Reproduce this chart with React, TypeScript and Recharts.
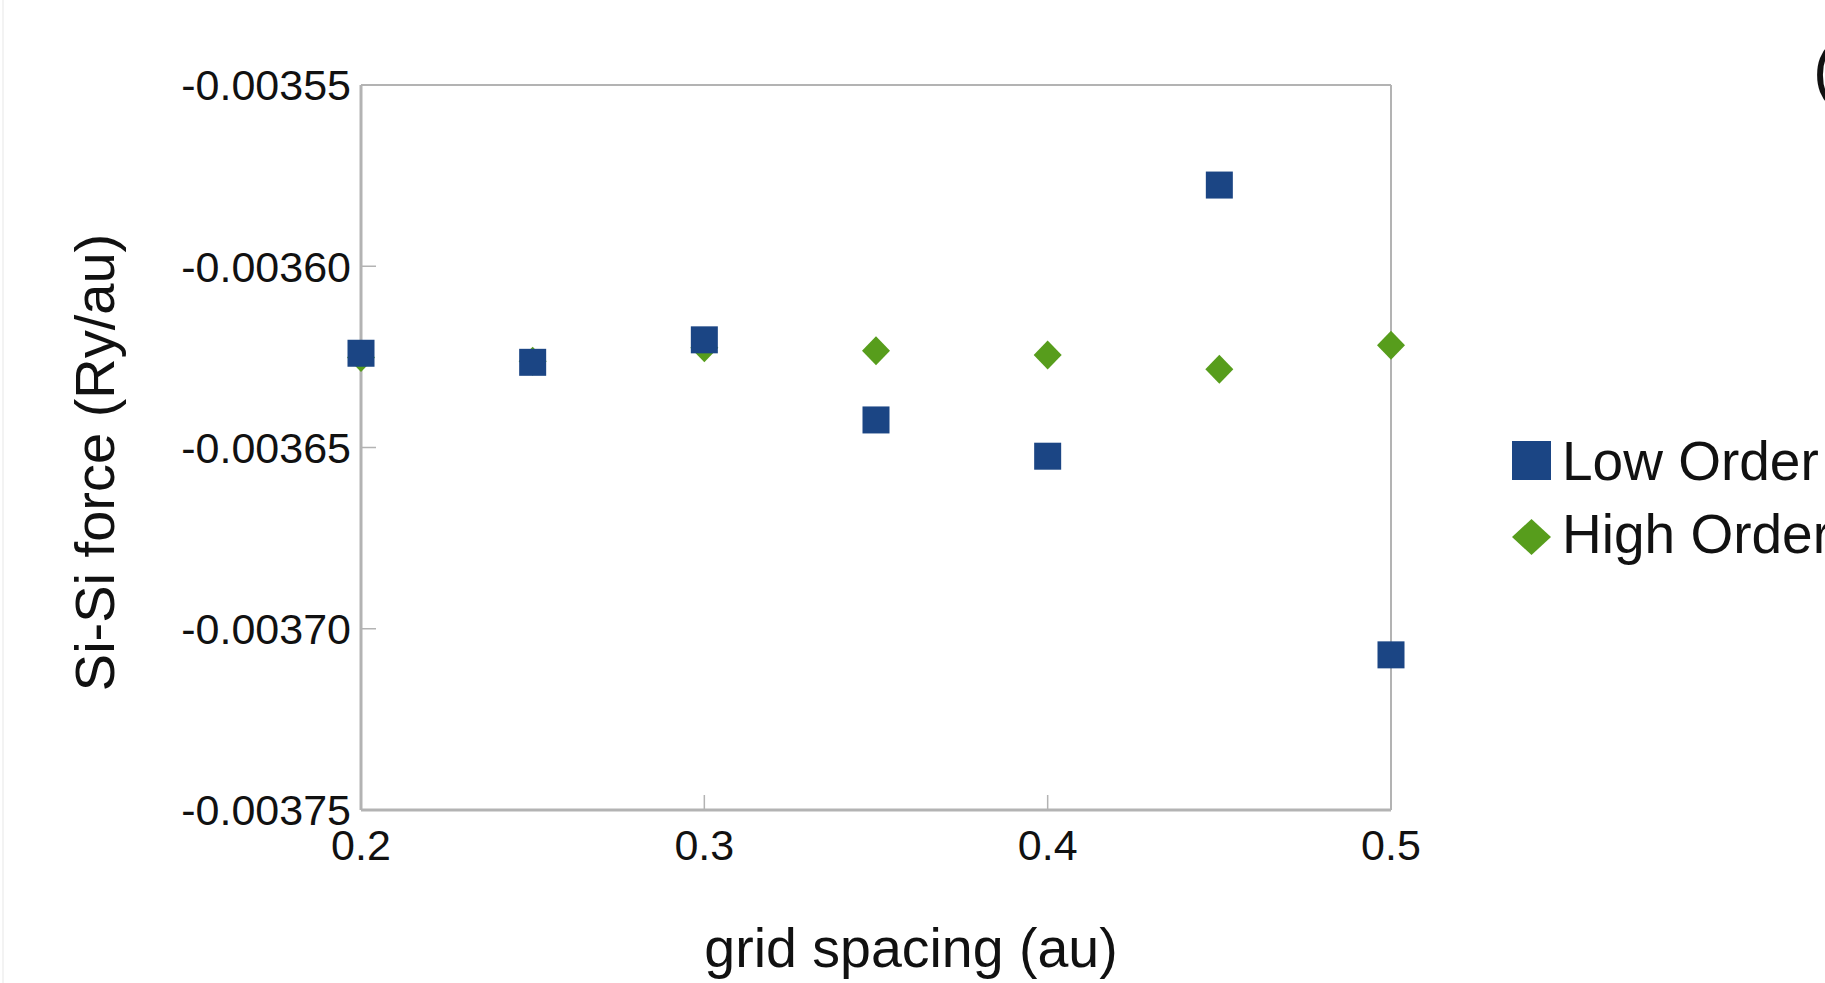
import React from 'react';
import { ScatterChart, Scatter, XAxis, YAxis, ReferenceLine, Legend, Label } from 'recharts';

const xValues = [0.2, 0.25, 0.3, 0.35, 0.4, 0.45, 0.5];
const lowOrder = [-0.003624, -0.0036265, -0.0036203, -0.0036424, -0.0036524, -0.0035776, -0.0037072];
const highOrder = [-0.0036252, -0.0036262, -0.0036225, -0.0036233, -0.0036245, -0.0036284, -0.0036218];
const xTicks = [0.2, 0.3, 0.4, 0.5];
const yTicks = [-0.00375, -0.0037, -0.00365, -0.0036, -0.00355];
const seriesNames = ['Low Order', 'High Order'];

const BLUE = '#1b4584';
const GREEN = '#579d1c';
const AXIS = '#b3b3b3';
const FONT = '"Liberation Sans", Arial, sans-serif';
const TEXT = '#111111';

const lowData = xValues.map((x, i) => ({ x, y: lowOrder[i] }));
const highData = xValues.map((x, i) => ({ x, y: highOrder[i] }));

const SquareShape = (props: any) => {
  const { cx, cy } = props;
  if (cx == null || cy == null) return null;
  return <rect x={cx - 13.5} y={cy - 13.5} width={27} height={27} fill={BLUE} />;
};

const DiamondShape = (props: any) => {
  const { cx, cy } = props;
  if (cx == null || cy == null) return null;
  const w = 14;
  const h = 14.5;
  return (
    <polygon
      points={`${cx},${cy - h} ${cx + w},${cy} ${cx},${cy + h} ${cx - w},${cy}`}
      fill={GREEN}
    />
  );
};

const LegendContent = () => {
  return (
    <svg width={340} height={150} style={{ overflow: 'visible', display: 'block' }}>
      <rect x={7} y={21} width={39} height={39} fill={BLUE} />
      <text x={57} y={60} fontSize={55} fontFamily={FONT} fill={TEXT}>
        {seriesNames[0]}
      </text>
      <polygon points="26.5,99 46,117 26.5,135 7,117" fill={GREEN} />
      <text x={57} y={133} fontSize={55} fontFamily={FONT} fill={TEXT}>
        {seriesNames[1]}
      </text>
    </svg>
  );
};

export default function App() {
  return (
    <div
      style={{
        position: 'fixed',
        left: 0,
        top: 0,
        width: 1825,
        height: 983,
        overflow: 'hidden',
        background: '#ffffff',
      }}
    >
      <div style={{ position: 'absolute', left: 2, top: 0, width: 2, height: 983, background: '#f3f3f3' }} />
      <ScatterChart
        width={1825}
        height={983}
        margin={{ top: 85, right: 434, bottom: 16, left: 0 }}
        style={{ fontFamily: FONT }}
      >
        <XAxis
          type="number"
          dataKey="x"
          domain={[0.2, 0.5]}
          ticks={xTicks}
          interval={0}
          tickFormatter={(v: number) => v.toFixed(1)}
          height={157}
          axisLine={{ stroke: AXIS, strokeWidth: 3 }}
          tickLine={{ stroke: AXIS, strokeWidth: 1.5 }}
          tickSize={-15}
          tickMargin={34}
          tick={{ fill: TEXT, fontSize: 43, fontFamily: FONT }}
        >
          <Label
            value="grid spacing (au)"
            position="insideBottom"
            offset={0}
            dx={35}
            style={{ fontSize: 55.5, fill: TEXT, fontFamily: FONT }}
          />
        </XAxis>
        <YAxis
          type="number"
          dataKey="y"
          domain={[-0.00375, -0.00355]}
          ticks={yTicks}
          interval={0}
          tickFormatter={(v: number) => v.toFixed(5)}
          width={361}
          axisLine={{ stroke: AXIS, strokeWidth: 3 }}
          tickLine={{ stroke: AXIS, strokeWidth: 1.5 }}
          tickSize={-15}
          tickMargin={25}
          tick={{ fill: TEXT, fontSize: 43, fontFamily: FONT }}
        >
          <Label
            value="Si-Si force (Ry/au)"
            angle={-90}
            position="insideLeft"
            offset={94}
            dy={15}
            style={{ fontSize: 56, fill: TEXT, fontFamily: FONT, textAnchor: 'middle' }}
          />
        </YAxis>
        <ReferenceLine y={-0.00355} stroke={AXIS} strokeWidth={2} />
        <ReferenceLine x={0.5} stroke={AXIS} strokeWidth={2} />
        <Legend
          layout="horizontal"
          align="center"
          verticalAlign="middle"
          content={<LegendContent />}
          wrapperStyle={{ left: 1505, top: 420, width: 340, height: 150 }}
        />
        <Scatter name={seriesNames[1]} data={highData} fill={GREEN} shape={DiamondShape} isAnimationActive={false} />
        <Scatter name={seriesNames[0]} data={lowData} fill={BLUE} shape={SquareShape} isAnimationActive={false} />
      </ScatterChart>
      <svg
        width={1825}
        height={983}
        style={{ position: 'absolute', left: 0, top: 0, pointerEvents: 'none' }}
      >
        <text x={1813} y={92} fontSize={66} fontFamily={FONT} fill={TEXT}>
          (a)
        </text>
      </svg>
    </div>
  );
}
